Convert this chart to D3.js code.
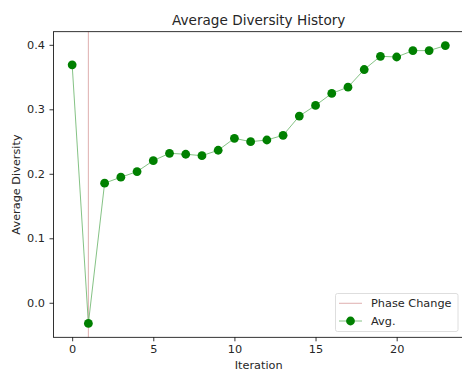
<!DOCTYPE html>
<html>
<head>
<meta charset="utf-8">
<script src="https://cdn.jsdelivr.net/npm/d3@7/dist/d3.min.js"></script>
<style>
  html, body { margin: 0; padding: 0; background: #fff; }
  svg { display: block; font-family: "DejaVu Sans", sans-serif; }
</style>
</head>
<body>
<svg id="chart" width="462" height="374"></svg>
<script>
// Average diversity per iteration
const iterations = [0,1,2,3,4,5,6,7,8,9,10,11,12,13,14,15,16,17,18,19,20,21,22,23];
const avgDiversity = [0.369,-0.032,0.1855,0.1947,0.2034,0.2204,0.2318,0.2303,0.2281,0.2365,0.2550,0.2498,
                      0.2524,0.2597,0.2895,0.3060,0.3246,0.3343,0.3617,0.3822,0.3811,0.3910,0.3910,0.3988];
const phaseChanges = [1];
const xTicks = [0, 5, 10, 15, 20];
const yTicks = [0.0, 0.1, 0.2, 0.3, 0.4];
const legendLabels = ["Phase Change", "Avg."];

const FS = 11.3;      // tick / label / legend size
const TITLE_FS = 13.6;

const svg = d3.select("#chart");
const plot = { left: 53.5, top: 31.7, right: 464, bottom: 337.3 };

// padded domains (5% margins around the data)
const xExt = d3.extent(iterations), yExt = d3.extent(avgDiversity);
const xPad = (xExt[1] - xExt[0]) * 0.05, yPad = (yExt[1] - yExt[0]) * 0.05;
const x = d3.scaleLinear().domain([xExt[0] - xPad, xExt[1] + xPad]).range([plot.left, plot.right]);
const y = d3.scaleLinear().domain([yExt[0] - yPad, yExt[1] + yPad]).range([plot.bottom, plot.top]);

// phase change markers
svg.selectAll("line.phase").data(phaseChanges).join("line")
  .attr("class", "phase")
  .attr("x1", d => x(d)).attr("x2", d => x(d))
  .attr("y1", plot.top).attr("y2", plot.bottom)
  .attr("stroke", "#e2b6b6").attr("stroke-width", 1.1);

// series line + markers
const line = d3.line().x((d, i) => x(iterations[i])).y(d => y(d));
svg.append("path").datum(avgDiversity)
  .attr("d", line).attr("fill", "none")
  .attr("stroke", "#66b266").attr("stroke-width", 0.8);
svg.selectAll("circle.pt").data(avgDiversity).join("circle")
  .attr("class", "pt")
  .attr("cx", (d, i) => x(iterations[i])).attr("cy", d => y(d))
  .attr("r", 4.4).attr("fill", "#008000");

// axes
const xAxis = d3.axisBottom(x).tickValues(xTicks).tickFormat(d3.format("d")).tickSize(4).tickPadding(4);
const yAxis = d3.axisLeft(y).tickValues(yTicks).tickFormat(d3.format(".1f")).tickSize(4).tickPadding(4.5);

const gx = svg.append("g").attr("transform", `translate(0,${plot.bottom})`).call(xAxis);
const gy = svg.append("g").attr("transform", `translate(${plot.left},0)`).call(yAxis);
[gx, gy].forEach(g => {
  g.select(".domain").remove();
  g.selectAll("line").attr("stroke", "#000").attr("stroke-width", 0.8);
  g.selectAll("text").attr("fill", "#262626").style("font-size", FS + "px").style("font-family", "DejaVu Sans");
});

// spines
svg.append("rect")
  .attr("x", plot.left).attr("y", plot.top)
  .attr("width", plot.right - plot.left).attr("height", plot.bottom - plot.top)
  .attr("fill", "none").attr("stroke", "#000").attr("stroke-width", 0.8);

// title and axis labels
svg.append("text").attr("x", 258.7).attr("y", 24.5).attr("text-anchor", "middle")
  .style("font-size", TITLE_FS + "px").attr("fill", "#262626").text("Average Diversity History");
svg.append("text").attr("x", 258.7).attr("y", 369.3).attr("text-anchor", "middle")
  .style("font-size", FS + "px").attr("fill", "#262626").text("Iteration");
svg.append("text").attr("transform", `translate(19.5,${(plot.top + plot.bottom) / 2}) rotate(-90)`)
  .attr("text-anchor", "middle")
  .style("font-size", FS + "px").attr("fill", "#262626").text("Average Diversity");

// legend
const lg = svg.append("g");
lg.append("rect").attr("x", 335.5).attr("y", 293.5).attr("width", 122.5).attr("height", 38)
  .attr("rx", 2).attr("fill", "#fff").attr("fill-opacity", 0.8)
  .attr("stroke", "#d6d6d6").attr("stroke-width", 0.8);
lg.append("line").attr("x1", 339).attr("x2", 362).attr("y1", 303.3).attr("y2", 303.3)
  .attr("stroke", "#e2b6b6").attr("stroke-width", 1.1);
lg.append("line").attr("x1", 339).attr("x2", 362).attr("y1", 321).attr("y2", 321)
  .attr("stroke", "#66b266").attr("stroke-width", 0.8);
lg.append("circle").attr("cx", 350.5).attr("cy", 321).attr("r", 4.4).attr("fill", "#008000");
lg.selectAll("text.lab").data(legendLabels).join("text")
  .attr("class", "lab")
  .attr("x", 371).attr("y", (d, i) => 303.3 + i * 17.7 + 4)
  .style("font-size", FS + "px").attr("fill", "#262626").text(d => d);
</script>
</body>
</html>
